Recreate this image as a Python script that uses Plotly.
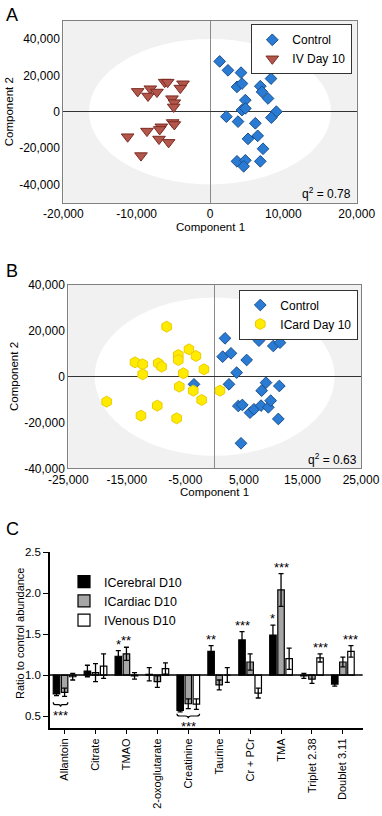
import plotly.graph_objects as go

# ---------------- Panel A data ----------------
a_ctrl_x = [1320, 2450, 4230, 8320, 3680, 4360, 6860, 7090, 7910, 4820, 4360, 4820, 9050, 8360,
            2230, 3820, 6180, 6500, 5180, 7230, 3680, 4820, 4590, 6860]
a_ctrl_y = [27630, 22730, 21450, 18180, 13640, 15450, 14000, 10900, 7270, 6360, 910, 1820, 0, -3270,
            -2730, -5450, -6360, -13270, -14910, -20360, -27270, -26730, -30000, -27270]
a_iv_x = [-9860, -8140, -8450, -7230, -6180, -5770, -3680, -4050, -5180, -4860, -4950, -5090, -4860,
          -6640, -6860, -8590, -11230, -6950, -5640, -9410]
a_iv_y = [11160, 12620, 8620, 10800, 16250, 16250, 15340, 12980, 7160, 4980, 2620, -5930, -7020,
          -8290, -9740, -10650, -13740, -15020, -16840, -24110]

# ---------------- Panel B data ----------------
b_ctrl_x = [6890, 1770, 5180, 5750, 7570, 10020, 11160, 1370, 2790, 5470, 3760, -3530, 2450, 8770,
            8030, 11050, 4040, 4730, 6040, 6720, 7920, 9170, 9570, 10880, 4500]
b_ctrl_y = [33450, 16730, 18910, 19640, 15710, 13380, 14840, 8730, 10180, 7270, 1750, -3350, -3350,
            -2620, -6110, -4070, -12800, -12360, -15710, -14250, -12650, -13380, -10470, -18470, -29090]
b_icard_x = [-8200, -13610, -12300, -12300, -9630, -9060, -6210, -6210, -4390, -3190, -1820, -5350,
             -6040, -3650, -2220, 910, -18450, -12590, -9800, -6490]
b_icard_y = [21820, 6250, 5380, 1020, 5820, 4360, 9450, 7270, 11930, 9020, 3200, 1450, -4360, -6110,
             -10180, -6110, -10910, -17020, -12650, -18180]

# ---------------- Panel C data ----------------
categories = ["Allantoin", "Citrate", "TMAO", "2-oxoglutarate", "Creatinine", "Taurine",
              "Cr + PCr", "TMA", "Triplet 2.38", "Doublet 3.11"]
cerebral = [0.77, 1.05, 1.23, 1.01, 0.57, 1.29, 1.43, 1.49, 0.99, 0.89]
cerebral_err = [0.02, 0.07, 0.07, 0.08, 0.02, 0.07, 0.10, 0.12, 0.03, 0.025]
cardiac = [0.79, 1.03, 1.26, 0.92, 0.65, 0.88, 1.16, 2.04, 0.95, 1.16]
cardiac_err = [0.05, 0.11, 0.08, 0.07, 0.06, 0.06, 0.10, 0.20, 0.05, 0.06]
venous = [0.98, 1.11, 0.99, 1.08, 0.645, 1.00, 0.78, 1.20, 1.21, 1.29]
venous_err = [0.04, 0.15, 0.04, 0.07, 0.065, 0.09, 0.06, 0.13, 0.05, 0.07]
series_names = ["ICerebral D10", "ICardiac D10", "IVenous D10"]
# significance marks above bars: (category index, series index, text)
sig_above = [(2, 0, "*"), (2, 1, "**"), (5, 0, "**"), (6, 0, "***"), (7, 0, "*"), (7, 1, "***"),
             (8, 2, "***"), (9, 2, "***")]
# braces below: (category index, first series, last series, text)
sig_brace = [(0, 0, 1, "***"), (4, 0, 2, "***")]

a_xticks = [-20000, -10000, 0, 10000, 20000]
a_xlabels = ["-20,000", "-10,000", "0", "10,000", "20,000"]
a_yticks = [-40000, -20000, 0, 20000, 40000]
a_ylabels = ["-40,000", "-20,000", "0", "20,000", "40,000"]
b_xticks = [-25000, -15000, -5000, 5000, 15000, 25000]
b_xlabels = ["-25,000", "-15,000", "-5,000", "5,000", "15,000", "25,000"]
b_yticks = [-40000, -20000, 0, 20000, 40000]
b_ylabels = ["-40,000", "-20,000", "0", "20,000", "40,000"]
c_yticks = [0.5, 1.0, 1.5, 2.0, 2.5]
c_ylabels = ["0.5", "1.0", "1.5", "2.0", "2.5"]

W, H = 382, 816
FONT = "Liberation Sans, Arial, sans-serif"


def fx(p):
    return p / W


def fy(p):
    return 1 - p / H


BLUE = dict(symbol="diamond", size=9, color="#2a7bd3", line=dict(color="#1b4f8c", width=1))
RED = dict(symbol="triangle-down", size=11, color="#b3574c", line=dict(color="#7a2b22", width=1))
YEL = dict(symbol="hexagon", size=11, color="#ffeb00", line=dict(color="#eccb00", width=1))

fig = go.Figure()
fig.add_trace(go.Scatter(x=a_ctrl_x, y=a_ctrl_y, mode="markers", name="Control", marker=BLUE,
                         xaxis="x", yaxis="y", legend="legend"))
fig.add_trace(go.Scatter(x=a_iv_x, y=a_iv_y, mode="markers", name="IV Day 10", marker=RED,
                         xaxis="x", yaxis="y", legend="legend"))
fig.add_trace(go.Scatter(x=b_ctrl_x, y=b_ctrl_y, mode="markers", name="Control", marker=BLUE,
                         xaxis="x2", yaxis="y2", legend="legend2"))
fig.add_trace(go.Scatter(x=b_icard_x, y=b_icard_y, mode="markers", name="ICard Day 10", marker=YEL,
                         xaxis="x2", yaxis="y2", legend="legend2"))

vals = [cerebral, cardiac, venous]
errs = [cerebral_err, cardiac_err, venous_err]
colors = ["#000000", "#a6a6a6", "#ffffff"]
for j in range(3):
    fig.add_trace(go.Bar(
        x=categories, y=[v - 1 for v in vals[j]], base=1, name=series_names[j],
        offsetgroup=str(j),
        marker=dict(color=colors[j], line=dict(color="#000000", width=1.2)),
        error_y=dict(type="data", array=errs[j], color="#000000", thickness=1.3, width=2.5),
        xaxis="x3", yaxis="y3", legend="legend3"))

BARGAP, GROUPGAP = 0.214, 0.2
slot = (1 - BARGAP) / 3
offsets = [-slot, 0, slot]
bw = slot * (1 - GROUPGAP)

tickfont = dict(family=FONT, size=12, color="#000")
sc_axis = dict(showline=True, mirror=True, linecolor="#808080", linewidth=1, showgrid=False,
               zeroline=True, ticks="", tickfont=tickfont, automargin=False,
               ticklabeloverflow="allow")

layout = dict(
    width=W, height=H, margin=dict(l=0, r=0, t=0, b=0, autoexpand=False),
    paper_bgcolor="white", plot_bgcolor="white",
    font=dict(family=FONT, color="#000"),
    barmode="group", bargap=BARGAP, bargroupgap=GROUPGAP,
    xaxis=dict(sc_axis, domain=[fx(63.3), fx(356.7)], range=[-20000, 20000], anchor="y",
               tickvals=a_xticks, ticktext=a_xlabels, zerolinecolor="#8a8a8a", zerolinewidth=1.2),
    yaxis=dict(sc_axis, domain=[fy(202.7), fy(20.7)], range=[-50000, 50000], anchor="x",
               tickvals=a_yticks, ticktext=a_ylabels, zerolinecolor="#333333", zerolinewidth=1.2),
    xaxis2=dict(sc_axis, domain=[fx(68.3), fx(361)], range=[-25000, 25000], anchor="y2",
                tickvals=b_xticks, ticktext=b_xlabels, zerolinecolor="#8a8a8a", zerolinewidth=1.2),
    yaxis2=dict(sc_axis, domain=[fy(468.3), fy(285)], range=[-40000, 40000], anchor="x2",
                tickvals=b_yticks, ticktext=b_ylabels, zerolinecolor="#333333", zerolinewidth=1.2),
    xaxis3=dict(domain=[fx(50), fx(362.7)], type="category", range=[-0.472, 9.641], anchor="y3",
                showline=True, linecolor="#000", linewidth=1.5, showgrid=False, zeroline=False,
                ticks="outside", ticklen=4, tickwidth=1.3, tickcolor="#000", tickangle=-90,
                automargin=False, tickfont=dict(family=FONT, size=11, color="#000")),
    yaxis3=dict(domain=[fy(728.3), fy(552.3)], range=[0.35, 2.5], anchor="x3",
                showline=True, linecolor="#000", linewidth=1.5, showgrid=False, zeroline=False,
                ticks="outside", ticklen=5, tickwidth=1.3, tickcolor="#000",
                tickvals=c_yticks, ticktext=c_ylabels, automargin=False,
                tickfont=dict(family=FONT, size=11.5, color="#000")),
    legend=dict(x=fx(352.3), y=fy(24.3), xanchor="right", yanchor="top", bgcolor="white",
                bordercolor="#333", borderwidth=1, font=dict(size=12), tracegroupgap=0,
                itemwidth=30),
    legend2=dict(x=fx(358.3), y=fy(289.5), xanchor="right", yanchor="top", bgcolor="white",
                 bordercolor="#333", borderwidth=1, font=dict(size=12), tracegroupgap=0,
                 itemwidth=30),
    legend3=dict(x=fx(64), y=fy(567), xanchor="left", yanchor="top", bgcolor="rgba(0,0,0,0)",
                 borderwidth=0, font=dict(size=12.5), tracegroupgap=0, itemwidth=30),
    showlegend=True,
)
fig.update_layout(**layout)

PANEL_BG = "#f1f1f1"
shapes = [
    dict(type="rect", xref="x domain", yref="y domain", x0=0, x1=1, y0=0, y1=1,
         fillcolor=PANEL_BG, line=dict(width=0), layer="below"),
    dict(type="rect", xref="x2 domain", yref="y2 domain", x0=0, x1=1, y0=0, y1=1,
         fillcolor=PANEL_BG, line=dict(width=0), layer="below"),
    dict(type="circle", xref="x", yref="y", x0=-16500, x1=16500, y0=-40000, y1=40000,
         fillcolor="white", line=dict(width=0), layer="below"),
    dict(type="circle", xref="x2", yref="y2", x0=-20500, x1=20500, y0=-34500, y1=34500,
         fillcolor="white", line=dict(width=0), layer="below"),
    dict(type="line", xref="x3 domain", yref="y3", x0=0, x1=1, y0=1, y1=1,
         line=dict(color="#000", width=1.5), layer="above"),
]


def brace(xl, xr, ytop, ybot):
    xm = (xl + xr) / 2
    ym = (ytop + ybot) / 2
    d = (xr - xl) * 0.12
    return (f"M{xl},{ytop} Q{xl},{ym} {xl + d},{ym} L{xm - d},{ym} Q{xm},{ym} {xm},{ybot} "
            f"Q{xm},{ym} {xm + d},{ym} L{xr - d},{ym} Q{xr},{ym} {xr},{ytop}")


def txt(text, x, y, size=12, xanchor="center", yanchor="middle", angle=0):
    return dict(text=text, x=fx(x), y=fy(y), xref="paper", yref="paper", xanchor=xanchor,
                yanchor=yanchor, showarrow=False, textangle=angle, font=dict(size=size))


annotations = [
    txt("A", 4, 3, 18, "left", "top"),
    txt("B", 4, 259, 18, "left", "top"),
    txt("C", 4, 517, 18, "left", "top"),
    txt("q<sup>2</sup> = 0.78", 353, 193.5, 12, "right"),
    txt("q<sup>2</sup> = 0.63", 358.5, 459, 12, "right"),
    txt("Component 1", 210, 226.7, 11.5),
    txt("Component 2", 8.5, 111.7, 11.5, angle=-90),
    txt("Component 1", 214.6, 492.3, 11.5),
    txt("Component 2", 13.3, 376.7, 11.5, angle=-90),
    txt("Ratio to control abundance", 20, 634, 11, angle=-90),
]

for ci, sj, t in sig_above:
    annotations.append(dict(text=t, x=ci + offsets[sj], y=vals[sj][ci] + errs[sj][ci],
                            xref="x3", yref="y3", xanchor="center", yanchor="bottom", yshift=-3,
                            showarrow=False, font=dict(size=13)))

brace_levels = {0: (0.668, 0.612, 0.508), 4: (0.528, 0.472, 0.373)}
for ci, s0, s1, t in sig_brace:
    ytop, ybot, ytxt = brace_levels[ci]
    xl = ci + offsets[s0] - bw / 2
    xr = ci + offsets[s1] + bw / 2
    shapes.append(dict(type="path", xref="x3", yref="y3", path=brace(xl, xr, ytop, ybot),
                       line=dict(color="#000", width=1.2)))
    annotations.append(dict(text=t, x=(xl + xr) / 2, y=ytxt, xref="x3", yref="y3",
                            xanchor="center", yanchor="middle", showarrow=False,
                            font=dict(size=13)))

fig.update_layout(shapes=shapes, annotations=annotations)
fig.write_html("out.html", config={"displayModeBar": False},
               post_script="document.body.style.margin='0px';document.body.style.overflow='hidden';")
